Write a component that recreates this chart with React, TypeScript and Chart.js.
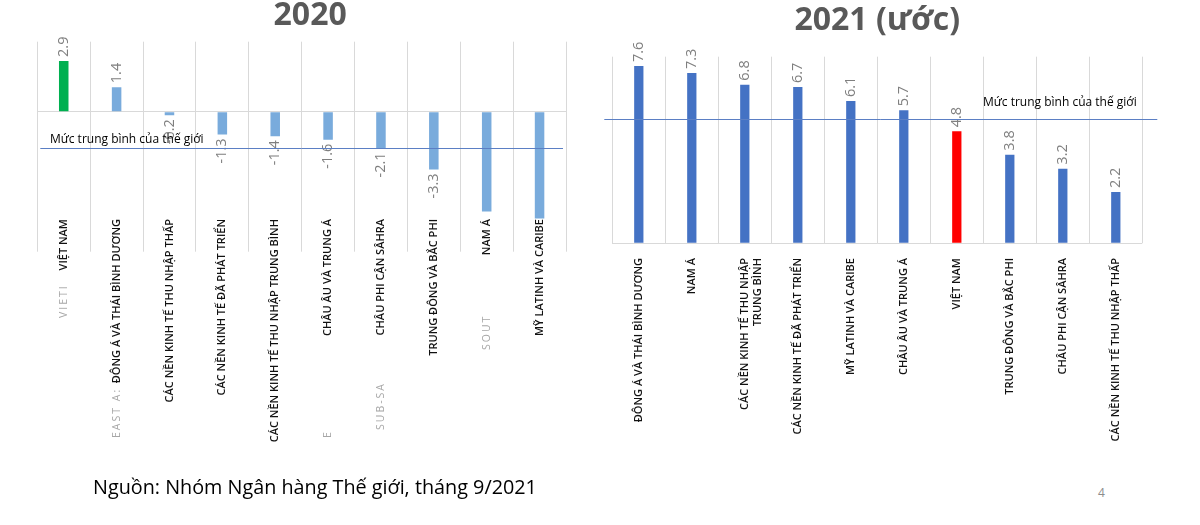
import React, { useEffect, useRef } from "react";
import { Chart, registerables } from "chart.js";

Chart.register(...registerables);

// ---------- DATA ----------
const title2020 = "2020";
const categories2020: (string | string[])[] = [
  "VIỆT NAM",
  "ĐÔNG Á VÀ THÁI BÌNH DƯƠNG",
  "CÁC NỀN KINH TẾ THU NHẬP THẤP",
  "CÁC NỀN KINH TẾ ĐÃ PHÁT TRIỂN",
  "CÁC NỀN KINH TẾ THU NHẬP TRUNG BÌNH",
  "CHÂU ÂU VÀ TRUNG Á",
  "CHÂU PHI CẬN SÂHRA",
  "TRUNG ĐÔNG VÀ BẮC PHI",
  "NAM Á",
  "MỸ LATINH VÀ CARIBE",
];
const values2020 = [2.9, 1.4, -0.2, -1.3, -1.4, -1.6, -2.1, -3.3, -5.7, -6.1];
const worldAvg2020 = -2.05;
const hiddenValueLabels2020 = [8, 9];
const ghostLabels2020 = ["VIETI", "EAST A:", "", "", "", "E", "SUB-SA", "", "SOUT", ""];

const title2021 = "2021 (ước)";
const categories2021: (string | string[])[] = [
  "ĐÔNG Á VÀ THÁI BÌNH DƯƠNG",
  "NAM Á",
  ["CÁC NỀN KINH TẾ THU NHẬP", "TRUNG BÌNH"],
  "CÁC NỀN KINH TẾ ĐÃ PHÁT TRIỂN",
  "MỸ LATINH VÀ CARIBE",
  "CHÂU ÂU VÀ TRUNG Á",
  "VIỆT NAM",
  "TRUNG ĐÔNG VÀ BẮC PHI",
  "CHÂU PHI CẬN SÂHRA",
  "CÁC NỀN KINH TẾ THU NHẬP THẤP",
];
const values2021 = [7.6, 7.3, 6.8, 6.7, 6.1, 5.7, 4.8, 3.8, 3.2, 2.2];
const worldAvg2021 = 5.35;

const worldLabel = "Mức trung bình của thế giới";
const sourceText = "Nguồn: Nhóm Ngân hàng Thế giới, tháng 9/2021";
const pageNumber = "4";

// ---------- STYLE ----------
const FONT = "'Open Sans', 'Noto Sans', 'DejaVu Sans', sans-serif";
const GRID = "#d9d9d9";
const colors2020 = values2020.map((_, i) => (i === 0 ? "#00b050" : "#79abdc"));
const colors2021 = categories2021.map((c) => (c === "VIỆT NAM" ? "#ff0000" : "#4472c4"));

const valueLabelPlugin = {
  id: "valueLabels",
  afterDatasetsDraw(chart: any, _args: any, opts: any) {
    const ctx = chart.ctx;
    const meta = chart.getDatasetMeta(0);
    const data = chart.data.datasets[0].data as number[];
    const hidden: number[] = opts.hidden || [];
    ctx.save();
    ctx.font = `${opts.size}px ${FONT}`;
    ctx.fillStyle = opts.color;
    ctx.textBaseline = "middle";
    meta.data.forEach((el: any, i: number) => {
      if (hidden.includes(i)) return;
      const v = data[i];
      ctx.save();
      ctx.translate(el.x, el.y);
      ctx.rotate(-Math.PI / 2);
      if (v >= 0) {
        ctx.textAlign = "left";
        ctx.fillText(v.toFixed(1), opts.gap, 0);
      } else {
        ctx.textAlign = "right";
        ctx.fillText(v.toFixed(1), -opts.gap, 0);
      }
      ctx.restore();
    });
    ctx.restore();
  },
};

const worldLinePlugin = {
  id: "worldLine",
  afterDatasetsDraw(chart: any, _args: any, opts: any) {
    const ctx = chart.ctx;
    const area = chart.chartArea;
    const y = chart.scales.y.getPixelForValue(opts.value);
    ctx.save();
    ctx.strokeStyle = opts.lineColor;
    ctx.lineWidth = 1;
    ctx.beginPath();
    ctx.moveTo(area.left + opts.x0, Math.round(y) + 0.5);
    ctx.lineTo(area.right + opts.x1, Math.round(y) + 0.5);
    ctx.stroke();
    ctx.font = `${opts.size}px ${FONT}`;
    ctx.fillStyle = "#000000";
    ctx.textBaseline = "middle";
    ctx.textAlign = opts.textAlign;
    const tx = opts.textAlign === "left" ? area.left + opts.tx : area.right + opts.tx;
    ctx.fillText(opts.text, tx, y + opts.ty);
    ctx.restore();
  },
};

const ghostPlugin = {
  id: "ghostLabels",
  afterDraw(chart: any, _args: any, opts: any) {
    if (!opts.labels) return;
    const ctx = chart.ctx;
    const xs = chart.scales.x;
    ctx.save();
    ctx.font = `${opts.size}px ${FONT}`;
    ctx.fillStyle = opts.color;
    ctx.textBaseline = "middle";
    ctx.textAlign = "left";
    try {
      (ctx as any).letterSpacing = "2px";
    } catch (e) {}
    (opts.labels as string[]).forEach((t, i) => {
      if (!t) return;
      ctx.save();
      ctx.translate(xs.getPixelForValue(i), opts.ys[i]);
      ctx.rotate(-Math.PI / 2);
      ctx.fillText(t, 0, 0);
      ctx.restore();
    });
    ctx.restore();
  },
};

function makeConfig(p: any) {
  return {
    type: "bar",
    data: {
      labels: p.labels,
      datasets: [
        {
          data: p.values,
          backgroundColor: p.colors,
          barPercentage: p.barPct,
          categoryPercentage: 1,
        },
      ],
    },
    plugins: [valueLabelPlugin, worldLinePlugin, ghostPlugin],
    options: {
      responsive: false,
      animation: false,
      layout: { padding: p.padding },
      plugins: {
        legend: { display: false },
        tooltip: { enabled: false },
        title: {
          display: true,
          text: p.title,
          color: "#595959",
          font: { family: FONT, size: 32, weight: "bold", lineHeight: 1 },
          padding: p.titlePadding,
        },
        valueLabels: { size: 14.5, color: "#7f7f7f", gap: 4, hidden: p.hidden },
        worldLine: {
          value: p.world,
          lineColor: "#5b7fc4",
          x0: p.lineX0,
          x1: p.lineX1,
          text: worldLabel,
          size: 12,
          textAlign: p.textAlign,
          tx: p.tx,
          ty: p.ty,
        },
        ghostLabels: { labels: p.ghost, ys: p.ghostYs, size: 10.5, color: "#a6a6a6" },
      },
      scales: {
        x: {
          grid: {
            color: GRID,
            offset: true,
            drawTicks: p.tickLength > 0,
            tickLength: p.tickLength,
          },
          border: { display: false },
          ticks: {
            autoSkip: false,
            minRotation: 90,
            maxRotation: 90,
            padding: p.tickPadding,
            color: "#111111",
            font: { family: FONT, size: 11, weight: "600" },
          },
          afterFit: (s: any) => {
            s.height = p.xHeight;
          },
        },
        y: {
          position: p.yPos,
          min: p.min,
          max: p.max,
          ticks: { display: false, stepSize: 1 },
          grid: {
            drawTicks: false,
            color: (c: any) => (c.tick && c.tick.value === 0 ? GRID : "rgba(0,0,0,0)"),
          },
          border: { display: false },
          afterFit: (s: any) => {
            s.width = p.yWidth;
          },
        },
      },
    },
  };
}

function BarChart({ config, left }: { config: any; left: number }) {
  const ref = useRef<HTMLCanvasElement | null>(null);
  useEffect(() => {
    if (!ref.current) return;
    const chart = new Chart(ref.current, config);
    return () => chart.destroy();
  }, [config]);
  return (
    <canvas
      ref={ref}
      width={600}
      height={480}
      style={{ position: "absolute", left, top: 0, width: 600, height: 480 }}
    />
  );
}

const config2020 = makeConfig({
  labels: categories2020,
  values: values2020,
  colors: colors2020,
  barPct: 0.18,
  title: title2020,
  titlePadding: { top: 0, bottom: 9.7 },
  padding: { left: 37.3, right: 17, top: 0, bottom: 0 },
  hidden: hiddenValueLabels2020,
  world: worldAvg2020,
  lineX0: 3,
  lineX1: -3,
  textAlign: "left",
  tx: 12.7,
  ty: -8,
  ghost: ghostLabels2020,
  ghostYs: [318, 438, 0, 0, 0, 438, 430, 0, 350, 0],
  tickLength: 32.7,
  tickPadding: -32.7,
  xHeight: 261,
  yPos: "right",
  yWidth: 17,
  min: -6.13,
  max: 4,
});

const config2021 = makeConfig({
  labels: categories2021,
  values: values2021,
  colors: colors2021,
  barPct: 0.175,
  title: title2021,
  titlePadding: { top: 4.7, bottom: 20 },
  padding: { left: 12.3, right: 57.7, top: 0, bottom: 0 },
  hidden: [],
  world: worldAvg2021,
  lineX0: -8,
  lineX1: 15,
  textAlign: "right",
  tx: -5.6,
  ty: -16,
  ghost: null,
  ghostYs: [],
  tickLength: 0,
  tickPadding: 14.7,
  xHeight: 236.7,
  yPos: "left",
  yWidth: 0,
  min: 0,
  max: 8,
});

export default function App() {
  return (
    <div
      style={{
        position: "fixed",
        left: 0,
        top: 0,
        width: 1200,
        height: 525,
        background: "#ffffff",
        overflow: "hidden",
      }}
    >
      <BarChart config={config2020} left={0} />
      <BarChart config={config2021} left={600} />
      <div
        style={{
          position: "absolute",
          left: 93,
          top: 475,
          fontFamily: FONT,
          fontSize: 19.8,
          lineHeight: "24px",
          color: "#000000",
          whiteSpace: "nowrap",
        }}
      >
        {sourceText}
      </div>
      <div
        style={{
          position: "absolute",
          left: 1098,
          top: 484,
          fontFamily: FONT,
          fontSize: 12,
          lineHeight: "18px",
          color: "#8c8c8c",
        }}
      >
        {pageNumber}
      </div>
    </div>
  );
}
